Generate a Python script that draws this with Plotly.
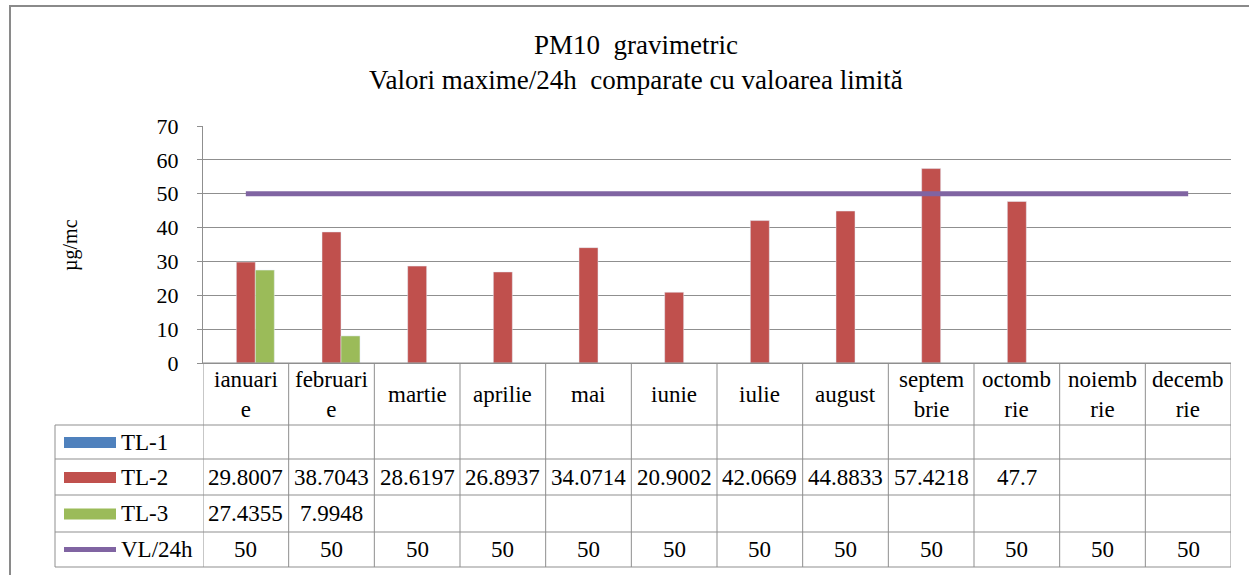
import plotly.graph_objects as go

# ---- data ----
months = ["ianuarie", "februarie", "martie", "aprilie", "mai", "iunie",
          "iulie", "august", "septembrie", "octombrie", "noiembrie", "decembrie"]
month_labels = ["ianuari<br>e", "februari<br>e", "martie", "aprilie", "mai", "iunie",
                "iulie", "august", "septem<br>brie", "octomb<br>rie", "noiemb<br>rie", "decemb<br>rie"]
tl1 = [None] * 12
tl2 = [29.8007, 38.7043, 28.6197, 26.8937, 34.0714, 20.9002,
       42.0669, 44.8833, 57.4218, 47.7, None, None]
tl3 = [27.4355, 7.9948, None, None, None, None,
       None, None, None, None, None, None]
vl24 = [50] * 12
series_names = ["TL-1", "TL-2", "TL-3", "VL/24h"]
y_ticks = [0, 10, 20, 30, 40, 50, 60, 70]

colors = {"TL-1": "#4F81BD", "TL-2": "#C0504D", "TL-3": "#9BBB59", "VL/24h": "#8064A2"}

W, H = 1249, 575
FONT = "Liberation Serif, Times New Roman, serif"

def px(x):
    return x / W

def py(y):
    return 1 - y / H

# layout geometry (pixels)
PL, PR, PT, PB = 203, 1231, 126, 363
TBL_L = 55
ROWS = [363, 425, 459, 495, 532, 567]
GRID = "#8f8f8f"

fig = go.Figure()
x_idx = list(range(len(months)))
fig.add_trace(go.Bar(x=x_idx, y=tl1, name="TL-1", marker_color=colors["TL-1"], showlegend=False))
fig.add_trace(go.Bar(x=x_idx, y=tl2, name="TL-2", marker_color=colors["TL-2"], showlegend=False))
fig.add_trace(go.Bar(x=x_idx, y=tl3, name="TL-3", marker_color=colors["TL-3"], showlegend=False))
fig.add_trace(go.Scatter(x=x_idx, y=vl24, name="VL/24h", mode="lines",
                         line=dict(color=colors["VL/24h"], width=5), showlegend=False))

shapes = []
annotations = []

# outer chart border
shapes.append(dict(type="rect", xref="paper", yref="paper",
                   x0=px(10), x1=px(1252), y0=py(580), y1=py(6),
                   line=dict(color="#8a8a8a", width=2)))

# table horizontal lines
for i, yy in enumerate(ROWS):
    x0 = PL if i == 0 else TBL_L
    shapes.append(dict(type="line", xref="paper", yref="paper",
                       x0=px(x0), x1=px(PR), y0=py(yy), y1=py(yy),
                       line=dict(color=GRID, width=1)))
# left table borders
shapes.append(dict(type="line", xref="paper", yref="paper",
                   x0=px(TBL_L), x1=px(TBL_L), y0=py(ROWS[1]), y1=py(ROWS[-1]),
                   line=dict(color=GRID, width=1)))
# column boundaries via the x axis
for k in range(len(months) + 1):
    shapes.append(dict(type="line", xref="x", yref="paper",
                       x0=k - 0.5, x1=k - 0.5, y0=py(ROWS[0]), y1=py(ROWS[-1]),
                       line=dict(color=GRID, width=1)))

TFS = 23
# header labels
for i, lab in enumerate(month_labels):
    annotations.append(dict(x=i, xref="x", y=py((ROWS[0] + ROWS[1]) / 2), yref="paper",
                            text=lab, showarrow=False,
                            font=dict(family=FONT, size=TFS, color="black"),
                            xanchor="center", yanchor="middle"))

# data rows
row_values = [tl1, tl2, tl3, vl24]
for r, (name, vals) in enumerate(zip(series_names, row_values)):
    yc = (ROWS[r + 1] + ROWS[r + 2]) / 2
    for i, v in enumerate(vals):
        if v is None:
            continue
        annotations.append(dict(x=i, xref="x", y=py(yc), yref="paper",
                                text=f"{v:g}", showarrow=False,
                                font=dict(family=FONT, size=TFS, color="black"),
                                xanchor="center", yanchor="middle"))
    # legend key
    if name == "VL/24h":
        shapes.append(dict(type="line", xref="paper", yref="paper",
                           x0=px(64), x1=px(116), y0=py(yc), y1=py(yc),
                           line=dict(color=colors[name], width=5)))
    else:
        shapes.append(dict(type="rect", xref="paper", yref="paper",
                           x0=px(64), x1=px(116), y0=py(yc - 5), y1=py(yc + 6),
                           fillcolor=colors[name], line=dict(width=0)))
    annotations.append(dict(x=px(119), xref="paper", y=py(yc), yref="paper",
                            text=name, showarrow=False,
                            font=dict(family=FONT, size=TFS, color="black"),
                            xanchor="left", yanchor="middle"))

# title
annotations.append(dict(x=px(636), xref="paper", y=py(62), yref="paper",
                        text="PM10  gravimetric<br>Valori maxime/24h  comparate cu valoarea limită",
                        showarrow=False, align="center",
                        font=dict(family=FONT, size=27, color="black"),
                        xanchor="center", yanchor="middle"))
# y axis title
annotations.append(dict(x=px(70), xref="paper", y=py(245), yref="paper",
                        text="µg/mc", textangle=-90, showarrow=False,
                        font=dict(family=FONT, size=20, color="black"),
                        xanchor="center", yanchor="middle"))

fig.update_layout(
    width=W, height=H, autosize=False,
    margin=dict(l=0, r=0, t=0, b=0, pad=0),
    paper_bgcolor="white", plot_bgcolor="white",
    showlegend=False,
    barmode="group", bargap=0.335, bargroupgap=0,
    shapes=shapes, annotations=annotations,
    xaxis=dict(domain=[px(PL), px(PR)], range=[-0.5, 11.5], automargin=False,
               showticklabels=False, showgrid=False, zeroline=False,
               showline=True, linecolor=GRID, linewidth=1, ticks=""),
    yaxis=dict(domain=[py(PB), py(PT)], range=[0, 70], tickvals=y_ticks, automargin=False,
               showgrid=True, gridcolor=GRID, gridwidth=1, zeroline=False,
               showline=True, linecolor=GRID, linewidth=1,
               ticks="outside", ticklen=5, tickcolor=GRID,
               ticklabelstandoff=14,
               tickfont=dict(family=FONT, size=22, color="black")),
)

fig.write_html(
    "out.html",
    config={"responsive": False, "displayModeBar": False},
    post_script="document.body.style.margin='0';document.body.style.overflow='hidden';",
)
